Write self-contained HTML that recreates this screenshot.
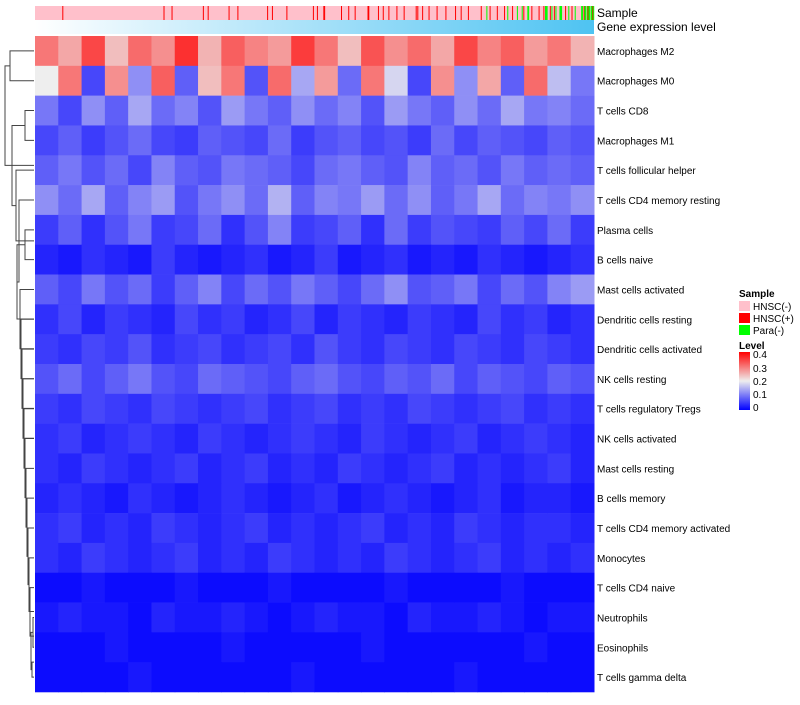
<!DOCTYPE html>
<html><head><meta charset="utf-8"><style>
body{margin:0;background:#fff;font-family:"Liberation Sans",sans-serif;}
svg text{font-family:"Liberation Sans",sans-serif;}
</style></head><body>
<svg id="chart" width="800" height="700">
<defs>
<linearGradient id="geneGrad" x1="0" x2="1"><stop offset="0" stop-color="#ffffff"/><stop offset="1" stop-color="#4ec3f2"/></linearGradient>
<linearGradient id="levelGrad" x1="0" x2="0" y1="1" y2="0"><stop offset="0" stop-color="#0000ff"/><stop offset="0.5" stop-color="#eeeeee"/><stop offset="1" stop-color="#ff0000"/></linearGradient>
</defs>
<g id="dendro" stroke="#444" fill="none" stroke-width="1"></g>
<g id="cells"></g>
<g id="sampleBar"></g>
<rect x="35" y="20" width="559" height="14" fill="url(#geneGrad)"/>
<text x="597" y="17" font-size="12">Sample</text>
<text x="597" y="31" font-size="12">Gene expression level</text>
<g id="rowLabels"></g>
<g>
<text x="739" y="297" font-size="10" font-weight="bold">Sample</text>
<rect x="739" y="301" width="11" height="10" fill="#ffc0cb"/>
<text x="753" y="310" font-size="10">HNSC(-)</text>
<rect x="739" y="313" width="11" height="10" fill="#ff0000"/>
<text x="753" y="322" font-size="10">HNSC(+)</text>
<rect x="739" y="325" width="11" height="10" fill="#00ff00"/>
<text x="753" y="334" font-size="10">Para(-)</text>
</g>
<g>
<text x="739" y="349" font-size="10" font-weight="bold">Level</text>
<rect x="739" y="352" width="11" height="58" fill="url(#levelGrad)"/>
<text x="753" y="358" font-size="10">0.4</text>
<text x="753" y="372" font-size="10">0.3</text>
<text x="753" y="385" font-size="10">0.2</text>
<text x="753" y="398" font-size="10">0.1</text>
<text x="753" y="411" font-size="10">0</text>
</g>
</svg>
<script>
const rowNames=["Macrophages M2","Macrophages M0","T cells CD8","Macrophages M1","T cells follicular helper","T cells CD4 memory resting","Plasma cells","B cells naive","Mast cells activated","Dendritic cells resting","Dendritic cells activated","NK cells resting","T cells regulatory  Tregs","NK cells activated","Mast cells resting","B cells memory","T cells CD4 memory activated","Monocytes","T cells CD4 naive","Neutrophils","Eosinophils","T cells gamma delta"];
const r0=[.30,.26,.34,.24,.31,.28,.36,.25,.32,.29,.27,.35,.30,.24,.33,.28,.31,.26,.34,.29,.32,.27,.30,.25];
const r1=[.20,.30,.06,.28,.12,.32,.08,.24,.30,.07,.31,.14,.27,.09,.30,.18,.06,.28,.12,.26,.08,.31,.16,.10];
const r2=[.10,.06,.12,.08,.14,.09,.11,.07,.13,.10,.08,.12,.09,.11,.07,.13,.10,.08,.12,.09,.14,.10,.11,.09];
const r3=[.06,.08,.05,.07,.09,.06,.05,.08,.07,.06,.09,.05,.07,.08,.06,.07,.05,.09,.06,.08,.07,.06,.08,.07];
const r4=[.08,.10,.07,.09,.06,.11,.08,.07,.10,.09,.08,.06,.09,.10,.08,.07,.11,.08,.09,.07,.10,.08,.09,.08];
const r5=[.12,.09,.14,.08,.11,.13,.07,.10,.12,.09,.15,.08,.11,.10,.13,.09,.12,.08,.10,.14,.09,.11,.10,.12];
const r6=[.05,.08,.04,.07,.10,.05,.06,.09,.04,.07,.11,.05,.06,.08,.04,.09,.05,.07,.06,.05,.08,.06,.09,.05];
const r7=[.03,.02,.04,.03,.02,.05,.03,.02,.03,.04,.02,.03,.05,.02,.03,.04,.02,.03,.02,.04,.03,.02,.03,.04];
const r8=[.08,.06,.10,.07,.09,.05,.08,.11,.06,.09,.07,.10,.08,.06,.09,.12,.07,.08,.10,.06,.09,.07,.11,.13];
const r9=[.04,.06,.03,.05,.04,.03,.06,.04,.05,.03,.04,.06,.03,.05,.04,.03,.05,.04,.03,.06,.04,.05,.03,.04];
const r10=[.05,.04,.06,.05,.07,.04,.05,.06,.04,.05,.06,.04,.07,.05,.04,.06,.05,.04,.06,.05,.04,.06,.05,.04];
const r11=[.07,.09,.06,.08,.10,.07,.06,.09,.08,.07,.06,.08,.09,.07,.06,.08,.07,.09,.06,.08,.07,.06,.08,.07];
const r12=[.05,.04,.06,.05,.04,.06,.05,.04,.05,.06,.04,.05,.06,.04,.05,.04,.06,.05,.04,.05,.06,.04,.05,.04];
const r13=[.04,.05,.03,.04,.05,.04,.03,.05,.04,.03,.04,.05,.04,.03,.05,.04,.03,.04,.05,.03,.04,.05,.04,.03];
const r14=[.04,.03,.05,.04,.03,.04,.05,.03,.04,.05,.03,.04,.03,.05,.04,.03,.04,.05,.03,.04,.03,.04,.05,.03];
const r15=[.03,.04,.03,.02,.04,.03,.02,.03,.04,.03,.02,.03,.04,.02,.03,.04,.03,.02,.03,.04,.02,.03,.03,.02];
const r16=[.04,.05,.03,.04,.03,.05,.04,.03,.04,.05,.03,.04,.03,.04,.05,.03,.04,.03,.05,.04,.03,.04,.04,.03];
const r17=[.04,.03,.05,.04,.03,.04,.05,.03,.04,.03,.05,.04,.03,.04,.03,.05,.04,.03,.04,.05,.03,.04,.03,.04];
const r18=[.01,.01,.02,.01,.01,.01,.02,.01,.01,.01,.02,.01,.01,.01,.01,.02,.01,.01,.01,.01,.02,.01,.01,.01];
const r19=[.02,.03,.02,.02,.01,.03,.02,.02,.03,.02,.01,.02,.03,.02,.02,.01,.03,.02,.02,.03,.02,.01,.02,.02];
const r20=[.01,.01,.01,.02,.01,.01,.01,.01,.02,.01,.01,.01,.01,.01,.02,.01,.01,.01,.01,.01,.01,.02,.01,.01];
const r21=[.01,.01,.01,.01,.02,.01,.01,.01,.01,.01,.01,.02,.01,.01,.01,.01,.01,.01,.02,.01,.01,.01,.01,.01];
const rows=[r0,r1,r2,r3,r4,r5,r6,r7,r8,r9,r10,r11,r12,r13,r14,r15,r16,r17,r18,r19,r20,r21];
const sampleCats="PPPPPPPPPPPPPPPPPPPPPPPPPPPPPPPPPPRPPPPPPPPPPPPPPPPPPPPPPPPPPPPPPPPPPPPPPPPPPPPPPPPPPPPPPPPPPPPPPPPPPPPPPPPPPPPPPPPPPPPPPPPPPPPPPPPPPPPPPPPPPPPPPPPPPPPPPPPPPPPPRPPPPPPPPPRPPPPPPPPPPPPPPPPPPPPPPPPPPPPPPPPPPPPPPRPPPPPRPPPPPPPPPPPPPPPPPPPPPPPPPRPPPPPPPPPPRPPPPPPPPPPPPPPPPPPPPPPPPPPPPPPPPPPPPRPPPPPRPPPPPPPPPPPPPPPPPRPPPPPPPPPPPPPPPPPPPPPPPPPPPPPPPPRPPPPRPPPPPPPRRPPPPPPPPPPPPPPPPPPPPRPPPPPPPPRPPPPPPPRPPPPPPPPPPPPPPPRRPPPPPPPPPPPRPPPPPRPPPPPPRPPPPPPPPPRPPPPPPPPRPPPPPPPPPPPPPPRPRPPPPPRPPPPPPPRPPPPPPPPPRPPPPPPPPPPRPPPPPPPPPPPRPPPPPPRPPPPPPPPRPPPPPPPPPPPPPPPRPPPPPPGPPPRPPPPPPPPRPPPPPPPPRPPPGPPPPPRPPPPPGPPPPPGPRPPPPGGPPPRPPPPPPPPRPPPPPRPGGGPPPRPGPPRPGPPPPGGGPPPPRPPPGPPPRPPPGPPPPPPPGGPRGGPGRGGPGGRG";
const X0=35,X1=594,Y0=36,Y1=692;
const ns="http://www.w3.org/2000/svg";
function xScale(i,n){return X0+(X1-X0)*i/n;}
function yScale(r){return Y0+(Y1-Y0)*r/rows.length;}
function color(v){
  const t=Math.max(0,Math.min(0.4,v));
  let r,g,b;
  if(t<=0.2){const f=t/0.2;r=Math.round(238*f);g=Math.round(238*f);b=Math.round(255-17*f);}
  else{const f=(t-0.2)/0.2;r=Math.round(238+17*f);g=Math.round(238*(1-f));b=Math.round(238*(1-f));}
  return `rgb(${r},${g},${b})`;
}
const cells=document.getElementById('cells');
rows.forEach((vals,ri)=>{
  vals.forEach((v,ci)=>{
    const rc=document.createElementNS(ns,'rect');
    const x=xScale(ci,vals.length),x2=xScale(ci+1,vals.length);
    rc.setAttribute('x',x);rc.setAttribute('y',yScale(ri));
    rc.setAttribute('width',x2-x+0.5);rc.setAttribute('height',yScale(ri+1)-yScale(ri)+0.3);
    rc.setAttribute('fill',color(v));
    
    
    cells.appendChild(rc);
  });
  const t=document.createElementNS(ns,'text');
  t.setAttribute('x',597);t.setAttribute('y',(yScale(ri)+yScale(ri+1))/2+4);
  t.setAttribute('font-size','10');t.textContent=rowNames[ri];
  
  
  document.getElementById('rowLabels').appendChild(t);
});
const sb=document.getElementById('sampleBar');
const catCol={P:"#ffc0cb",R:"#ff0000",G:"#00ff00"};
const n=sampleCats.length;
const bg=document.createElementNS(ns,'rect');
bg.setAttribute('x',X0);bg.setAttribute('y',6);bg.setAttribute('width',X1-X0);bg.setAttribute('height',14);bg.setAttribute('fill',catCol.P);


sb.appendChild(bg);
for(let i=0;i<n;i++){
  if(sampleCats[i]==='P')continue;
  const rc=document.createElementNS(ns,'rect');
  rc.setAttribute('x',xScale(i,n));rc.setAttribute('y',6);
  rc.setAttribute('width',Math.max(1,xScale(i+1,n)-xScale(i,n)));rc.setAttribute('height',14);
  rc.setAttribute('fill',catCol[sampleCats[i]]);
  
  
  sb.appendChild(rc);
}
const leafY=i=>(yScale(i)+yScale(i+1))/2;
const tree=[[0,1,10],[2,3,25],[19,20,33],[20.5,21,32],[19.5,20.75,31],[18,19.625,30],[17,18.8,29],[16,17.9,28],[15,16.95,27],[14,15.97,26],[13,14.98,25],[12,13.99,24],[11,12.99,23],[10,11.99,22],[9,10.99,21],[8,9.99,20],[6,7,25],[6.5,8.99,17],[5,7.75,19],[4,6.37,16],[2.5,5.19,12],[0.5,3.84,5]];
const dg=document.getElementById('dendro');
let d="";const nodeX={};
tree.forEach(([a,b,h])=>{
  const ya=leafY(0)+(a)*(yScale(1)-yScale(0)),yb=leafY(0)+(b)*(yScale(1)-yScale(0));
  const xa=nodeX[a]!==undefined?nodeX[a]:34, xb=nodeX[b]!==undefined?nodeX[b]:34;
  d+=`M${xa},${ya}H${h}V${yb}H${xb}`;
  nodeX[+((a+b)/2).toFixed(2)]=h;
});
const p=document.createElementNS(ns,'path');p.setAttribute('d',d);


dg.appendChild(p);
</script>
</body></html>
